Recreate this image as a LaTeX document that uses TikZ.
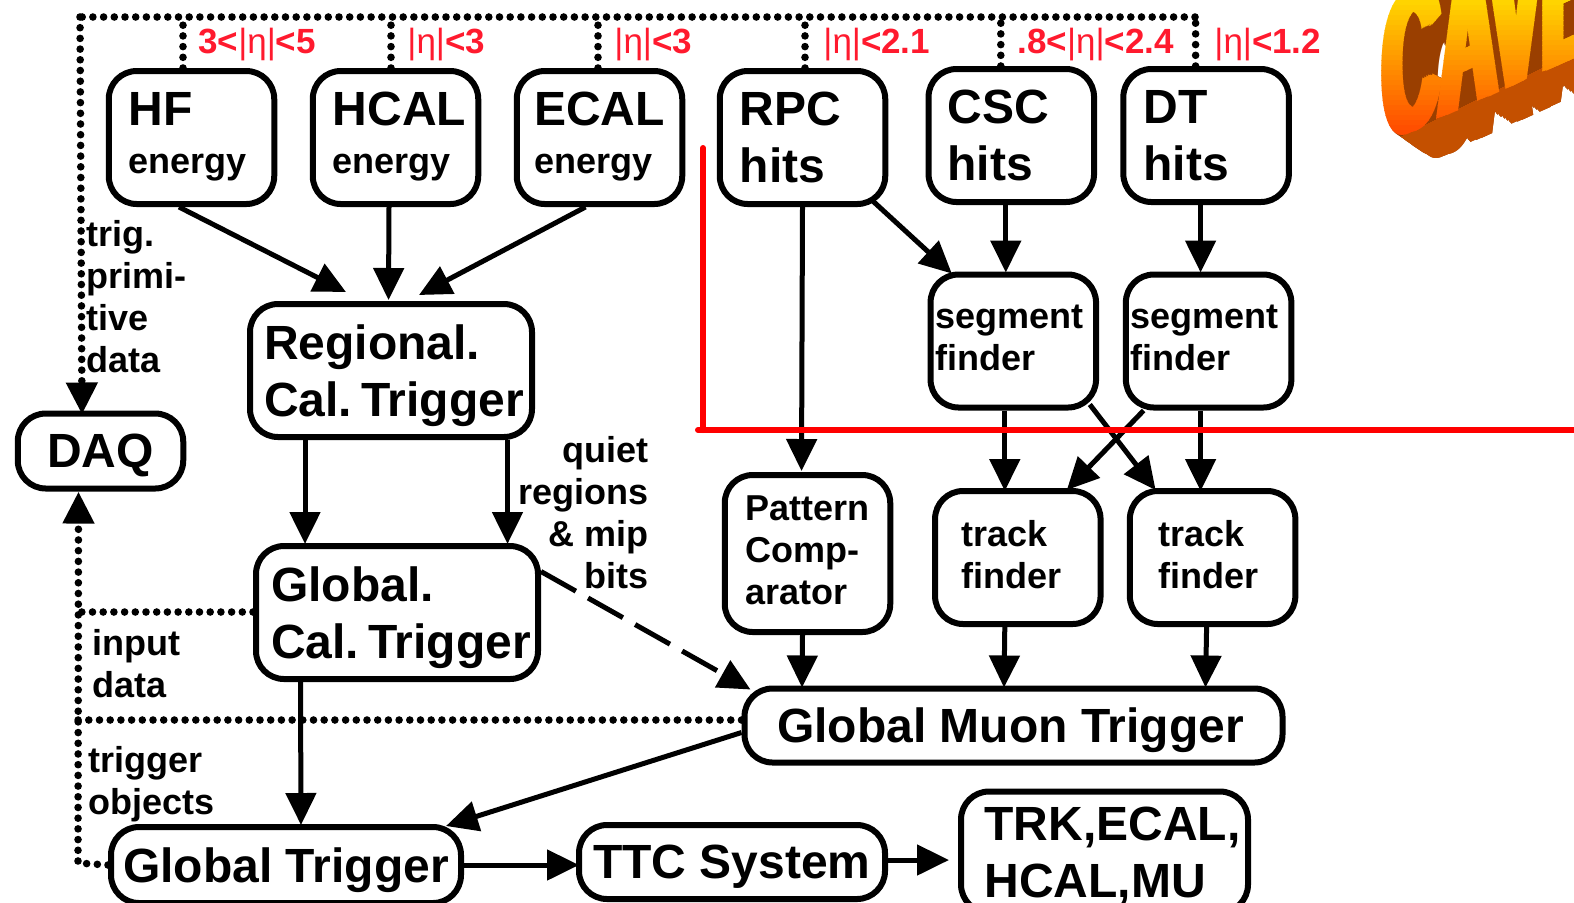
\documentclass[tikz,border=0pt]{standalone}
\usepackage{fontspec}
\setmainfont{Liberation Sans}
\usetikzlibrary{positioning,arrows.meta}

\definecolor{caveTop}{HTML}{FFD400}
\definecolor{caveBot}{HTML}{FF3F00}
\definecolor{caveDark}{HTML}{9A3F00}
\definecolor{caveLight}{HTML}{C45000}
\definecolor{etaRed}{HTML}{FF1A2E}

\newcommand{\bigtext}{\fontsize{24}{28.5}\selectfont\bfseries}
\newcommand{\smalltext}{\fontsize{18}{21}\selectfont\bfseries}
\newcommand{\etatext}{{\mdseries|η|}}

\tikzset{
	box/.style={rectangle, draw=black, line width=3pt, rounded corners=14pt, align=left, inner sep=0pt, font=\bigtext, text depth=0pt},
	smallbox/.style={box, minimum width=82.75pt, minimum height=66.5pt},
	energybox/.style={smallbox, text depth=5pt},
	finderbox/.style={smallbox, font=\smalltext},
	note/.style={inner sep=0pt, font=\smalltext, align=left},
	etanote/.style={inner sep=0pt, anchor=west, text=etaRed, font=\fontsize{17.5}{20}\selectfont\bfseries},
	link/.style={line width=2.5pt, -{Triangle[length=16pt,width=15pt]}},
	dotline/.style={line width=3.8pt, line cap=round, dash pattern=on 0pt off 5.35pt},
	dotlink/.style={dotline, -{Triangle[length=16pt,width=15pt]}},
	redline/.style={draw=red, line width=3pt, line cap=round},
	cavetext/.style={inner sep=0pt, anchor=base west, transform shape, font=\fontsize{30}{30}\selectfont\bfseries}
}

\begin{document}
\begin{tikzpicture}
	\useasboundingbox (0,0) rectangle (787pt,-451pt);

	% top row
	\node (hf) [energybox] at (95.75pt,-68.75pt)
	{
		HF\\[-4.5pt]
		{\smalltext energy}\hspace*{4pt}
	};
	\node (hcal) [energybox, right=16.25pt of hf]
	{
		\hspace*{4pt}HCAL\\[-4.5pt]
		\hspace*{4pt}{\smalltext energy}
	};
	\node (ecal) [energybox, right=16.25pt of hcal]
	{
		ECAL\\[-4.5pt]
		{\smalltext energy}
	};
	\node (rpc) [smallbox, right=15.75pt of ecal]
	{
		RPC\\
		hits\hspace*{20pt}
	};
	\node (csc) [smallbox, right=18.65pt of rpc, yshift=1pt]
	{
		CSC\\
		hits\hspace*{21pt}
	};
	\node (dt) [smallbox, right=11.65pt of csc]
	{
		DT\\
		hits\hspace*{20pt}
	};

	% muon side
	\node (segcsc) [finderbox, text depth=3pt, below=33.25pt of csc, xshift=1pt]
	{
		segment\hspace*{4pt}\\
		finder
	};
	\node (segdt) [finderbox, text depth=3pt, below=33.25pt of dt, xshift=1.25pt]
	{
		segment\hspace*{4pt}\\
		finder
	};
	\node (trackcsc) [finderbox, text depth=3pt, below=38.75pt of segcsc, xshift=2.25pt]
	{
		track\\
		finder\hspace*{6pt}
	};
	\node (trackdt) [finderbox, text depth=3pt, below=38.75pt of segdt, xshift=2pt]
	{
		track\\
		finder\hspace*{4pt}
	};
	\node (pattern) [finderbox, text depth=3.5pt, minimum height=78.5pt] at (403.75pt,-276.75pt)
	{
		Pattern\\
		Comp-\\
		arator
	};
	\node (gmt) [box, minimum width=269pt, minimum height=37pt] at (506.75pt,-362.75pt) {Global Muon Trigger\hspace*{3pt}};

	% calorimeter side
	\node (reg) [box, minimum width=141pt, minimum height=66.5pt] at (195.5pt,-185.25pt)
	{
		\hspace*{3pt}Regional.\\
		\hspace*{3pt}Cal.\hspace{-4.5pt} Trigger
	};
	\node (gcal) [box, minimum width=141pt, minimum height=66.5pt, below=51.5pt of reg, xshift=3pt]
	{
		\hspace*{4pt}Global.\\
		\hspace*{4pt}Cal.\hspace{-4.5pt} Trigger
	};
	\node (daq) [box, minimum width=82.75pt, minimum height=37.5pt] at (50.25pt,-225.5pt) {DAQ};

	% bottom row
	\node (gt) [box, minimum width=175pt, minimum height=38pt] at (143pt,-432.5pt) {Global Trigger};
	\node (ttc) [box, minimum width=153pt, minimum height=37pt] at (366pt,-431pt) {TTC System};
	\node (trk) [box, minimum width=143.5pt, minimum height=60.5pt] at (552.25pt,-426pt)
	{
		\hspace*{8pt}TRK,ECAL,\\
		\hspace*{8pt}HCAL,MU
	};

	% free ends
	\coordinate (busleft) at (40pt,-8.5pt);
	\coordinate (busright) at (597.5pt,-8.5pt);
	\coordinate (trkgap) at (474.5pt,-430pt);
	\coordinate (redtop) at (351.5pt,-74pt);
	\coordinate (redcorner) at (351.5pt,-215pt);
	\coordinate (redstart) at (349pt,-215pt);
	\coordinate (redend) at (787pt,-215pt);
	\coordinate (leftdata) at (39pt,-306pt);
	\coordinate (leftmuon) at (39pt,-360pt);
	\coordinate (leftgt) at (39pt,-431.5pt);

	% labels
	\node (etahf) [etanote] at (99pt,-22.5pt) {3<\etatext<5};
	\node (etahcal) [etanote] at (203.5pt,-22.5pt) {\etatext<3};
	\node (etaecal) [etanote] at (307pt,-22.5pt) {\etatext<3};
	\node (etarpc) [etanote] at (411.5pt,-22.5pt) {\etatext<2.1};
	\node (etacsc) [etanote] at (508.5pt,-22.5pt) {.8<\etatext<2.4};
	\node (etadt) [etanote] at (607pt,-22.5pt) {\etatext<1.2};
	\node (trignote) [note, anchor=west] at (43pt,-148.5pt)
	{
		trig.\\
		primi-\\
		tive\\
		data
	};
	\node (quietnote) [note, anchor=east, align=right] at (324.5pt,-256.5pt)
	{
		quiet\\
		regions\\
		\& mip\\
		bits
	};
	\node (inputnote) [note, anchor=west] at (46pt,-332pt)
	{
		input\\
		data
	};
	\node (objectnote) [note, anchor=west] at (44pt,-392pt)
	{
		trigger\\
		objects
	};

	% dotted read-out
	\draw[dotline] (busright) -- (busleft);
	\draw[dotlink] (busleft) -- ([xshift=-9.25pt,yshift=-2pt]daq.north);
	\draw[dotline] ([xshift=-4.25pt]hf.north) -- ([xshift=-4.25pt]hf.north |- busleft);
	\draw[dotline] ([xshift=-2.25pt]hcal.north) -- ([xshift=-2.25pt]hcal.north |- busleft);
	\draw[dotline] ([xshift=-0.75pt]ecal.north) -- ([xshift=-0.75pt]ecal.north |- busleft);
	\draw[dotline] ([xshift=1.25pt]rpc.north) -- ([xshift=1.25pt]rpc.north |- busleft);
	\draw[dotline] ([xshift=-5.25pt]csc.north) -- ([xshift=-5.25pt]csc.north |- busleft);
	\draw[dotline] ([xshift=-5.25pt]dt.north) -- ([xshift=-5.25pt]dt.north |- busleft);
	\draw[dotlink] (gt.west) -- (leftgt) -- ([xshift=-11pt]daq.south);
	\draw[dotline] (gcal.west |- leftdata) -- (leftdata);
	\draw[dotline] (gmt.west |- leftmuon) -- (leftmuon);

	% trigger paths
	\draw[link] ([xshift=-6.25pt]hf.south) -- ([xshift=-22.5pt,yshift=4.5pt]reg.north);
	\draw[link] ([xshift=-3.25pt]hcal.south) -- ([xshift=-1.25pt,yshift=0.5pt]reg.north);
	\draw[link] ([xshift=-7pt]ecal.south) -- ([xshift=14pt,yshift=3pt]reg.north);
	\draw[link] (rpc.south) -- ([xshift=-3pt,yshift=0.5pt]pattern.north);
	\draw[link] ([xshift=34.6pt,yshift=3.5pt]rpc.south) -- ([xshift=-30.75pt,yshift=-1pt]segcsc.north);
	\draw[link] ([xshift=-2.75pt]csc.south) -- ([xshift=-3.75pt,yshift=-0.5pt]segcsc.north);
	\draw[link] ([xshift=-2.75pt]dt.south) -- ([xshift=-4pt,yshift=-0.5pt]segdt.north);
	\draw[link] ([xshift=-4.25pt]segcsc.south) -- ([xshift=-6.5pt,yshift=-1.5pt]trackcsc.north);
	\draw[link] ([xshift=-4pt]segdt.south) -- ([xshift=-6pt,yshift=-1.5pt]trackdt.north);
	\draw[link] ([xshift=38.25pt,yshift=3pt]segcsc.south) -- ([xshift=-28.5pt,yshift=-1pt]trackdt.north);
	\draw[link] ([xshift=-32.5pt]segdt.south) -- ([xshift=24.5pt,yshift=-1pt]trackcsc.north);
	\draw[link] ([xshift=-43pt]reg.south) -- ([xshift=-46pt,yshift=-0.5pt]gcal.north);
	\draw[link] ([xshift=58.25pt]reg.south) -- ([xshift=55.25pt,yshift=-0.5pt]gcal.north);
	\draw[link, dash pattern=on 20pt off 7pt] ([yshift=20.5pt]gcal.east) -- ([xshift=4.5pt,yshift=-2pt]gmt.north west);
	\draw[link] ([xshift=-48.25pt]gcal.south) -- ([xshift=7.5pt,yshift=-0.5pt]gt.north);
	\draw[link] ([xshift=-2.5pt]pattern.south) -- ([xshift=-105.75pt,yshift=-1pt]gmt.north);
	\draw[link] ([xshift=-6.5pt]trackcsc.south) -- ([xshift=-4.75pt,yshift=-1pt]gmt.north);
	\draw[link] ([xshift=-3pt]trackdt.south) -- ([xshift=96pt,yshift=-1pt]gmt.north);
	\draw[link] ([yshift=-3.5pt]gmt.west) -- ([xshift=80pt,yshift=-1pt]gt.north);
	\draw[link] (gt.east) -- ([xshift=1.5pt]ttc.west |- gt.east);
	\draw[link] ([yshift=1pt]ttc.east) -- (trkgap);

	% red marks
	\draw[redline] (redtop) -- (redcorner);
	\draw[redline] (redstart) -- (redend);

	% cave banner
	\begin{scope}
		\clip (680pt,0pt) rectangle (787pt,-90pt);
		\foreach \i in {24,...,1}
		{
			\begin{scope}[cm={1.3,0.58,0,3.4,(689pt+0.71*\i pt,-73pt-0.48*\i pt)}]
				\foreach \d in {0,2,4}
				{
					\node (cavedark\i\d) [cavetext, text=caveDark] at (\d pt,0) {CAVE};
				}
			\end{scope}
		}
		\clip (680pt,-78pt) -- (787pt,-26pt) -- (787pt,-90pt) -- (680pt,-90pt) -- cycle;
		\foreach \i in {24,...,1}
		{
			\begin{scope}[cm={1.3,0.58,0,3.4,(689pt+0.71*\i pt,-73pt-0.48*\i pt)}]
				\foreach \d in {0,2,4}
				{
					\node (cavelight\i\d) [cavetext, text=caveLight] at (\d pt,0) {CAVE};
				}
			\end{scope}
		}
	\end{scope}
	\foreach \i in {0,...,28}
	{
		\pgfmathsetmacro{\mixval}{\i*100/28}
		\begin{scope}
			\clip (680pt,-2.5*\i pt) rectangle (787pt,-2.5*\i pt-2.7pt);
			\begin{scope}[cm={1.3,0.58,0,3.4,(689pt,-73pt)}]
				\foreach \d in {0,...,5}
				{
					\node (cavefront\i\d) [cavetext, text=caveBot!\mixval!caveTop] at (0.8*\d pt,0) {CAVE};
				}
			\end{scope}
		\end{scope}
	}
\end{tikzpicture}
\end{document}
